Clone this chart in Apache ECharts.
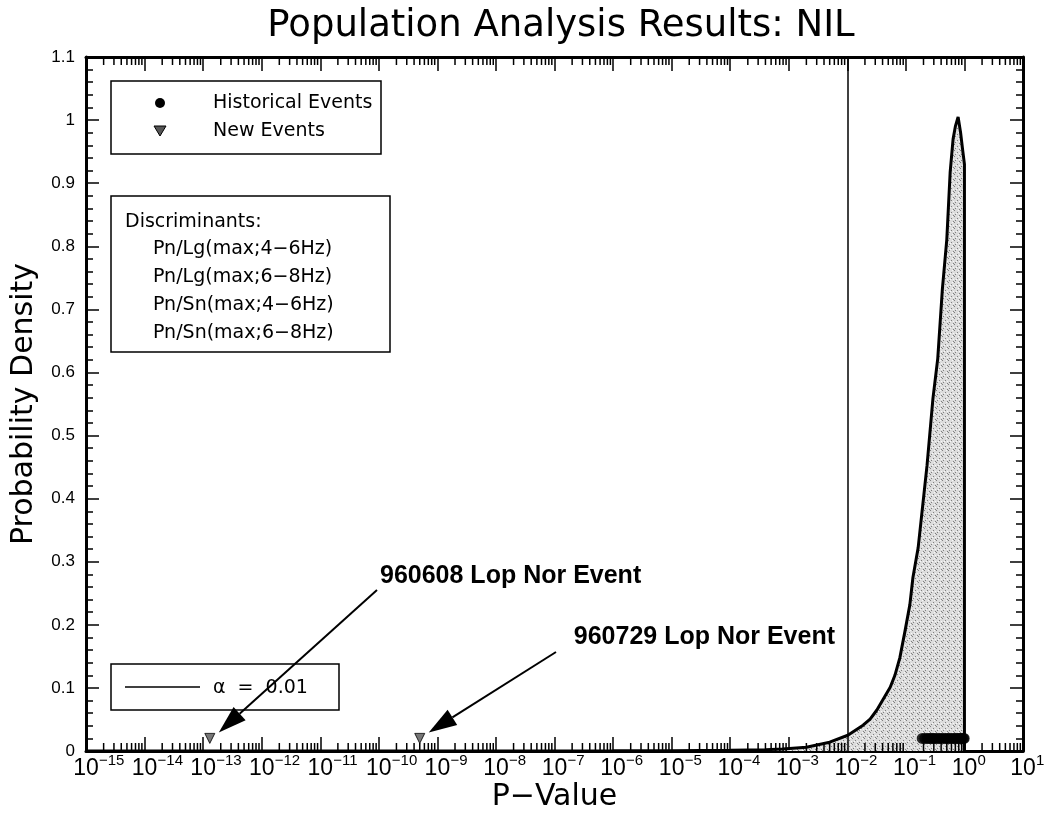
<!DOCTYPE html>
<html>
<head>
<meta charset="utf-8">
<script src="https://cdn.jsdelivr.net/npm/echarts@6/dist/echarts.min.js"></script>
<style>
html, body { margin: 0; padding: 0; background: #fff; }
#main { width: 1047px; height: 817px; }
</style>
</head>
<body>
<div id="main"></div>
<script>
// density of the population p-values
var curveP = [1e-15, 1e-12, 1e-9, 1e-6, 1e-5, 1e-4, 4e-4, 7.9e-4, 2.0e-3, 5.0e-3, 0.0102, 0.0186, 0.0245, 0.032, 0.054, 0.065, 0.079, 0.0966, 0.117, 0.132, 0.162, 0.23, 0.29, 0.35, 0.42, 0.50, 0.57, 0.64, 0.70, 0.78, 0.86, 0.94, 1.0, 1.0];
var curveD = [0, 0, 0, 0.0002, 0.0005, 0.001, 0.002, 0.003, 0.006, 0.014, 0.025, 0.041, 0.0505, 0.065, 0.101, 0.12, 0.148, 0.19, 0.232, 0.275, 0.322, 0.453, 0.559, 0.622, 0.732, 0.811, 0.917, 0.97, 0.99, 1.005, 0.98, 0.95, 0.93, 0];

// historical events (dots along the bottom)
var histP = [0.19, 0.21, 0.23, 0.25, 0.27, 0.29, 0.31, 0.34, 0.37, 0.40, 0.44, 0.48, 0.52, 0.56, 0.61, 0.66, 0.71, 0.76, 0.81, 0.86, 0.91, 0.96, 0.99];
var histD = [0.02, 0.02, 0.02, 0.02, 0.02, 0.02, 0.02, 0.02, 0.02, 0.02, 0.02, 0.02, 0.02, 0.02, 0.02, 0.02, 0.02, 0.02, 0.02, 0.02, 0.02, 0.02, 0.02];

// new events
var newP = [1.3e-13, 5e-10];
var newD = [0.02, 0.02];
var newNames = ['960608 Lop Nor Event', '960729 Lop Nor Event'];

var alpha = 0.01;
var discriminants = ['Pn/Lg(max;4\u22126Hz)', 'Pn/Lg(max;6\u22128Hz)', 'Pn/Sn(max;4\u22126Hz)', 'Pn/Sn(max;6\u22128Hz)'];

// axes: x is log10(P-Value)
var xMin = -15, xMax = 1;
var yMin = 0, yMax = 1.1;
var minorK = [2, 3, 4, 5, 6, 7, 8, 9];
var xDecades = [-15, -14, -13, -12, -11, -10, -9, -8, -7, -6, -5, -4, -3, -2, -1, 0, 1];

var xMinorTicks = [];
for (var e = xMin; e < xMax; e++) {
  minorK.forEach(function (k) { xMinorTicks.push([e + Math.log10(k), 0]); });
}

function lg(p) { return Math.log10(p); }

// stipple texture for the shaded area
function stipple() {
  var c = document.createElement('canvas');
  c.width = 6; c.height = 6;
  var ctx = c.getContext('2d');
  ctx.fillStyle = '#dcdcdc';
  ctx.fillRect(0, 0, 6, 6);
  ctx.fillStyle = '#808080';
  ctx.fillRect(0, 0, 1, 1);
  ctx.fillRect(3, 2, 1, 1);
  ctx.fillRect(1, 4, 1, 1);
  ctx.fillRect(5, 5, 1, 1);
  ctx.fillStyle = '#f8f8f8';
  ctx.fillRect(4, 0, 1, 1);
  ctx.fillRect(2, 3, 1, 1);
  ctx.fillRect(5, 3, 1, 1);
  return c;
}

var axisLineStyle = { color: '#000', width: 3 };
var tickStyle = { color: '#000', width: 1.5 };

var chart = echarts.init(document.getElementById('main'));

var option = {
  backgroundColor: '#fff',
  animation: false,
  title: {
    text: 'Population Analysis Results: NIL',
    left: 556, top: 3, textAlign: 'center',
    textStyle: { fontFamily: 'DejaVu Sans', fontSize: 37, fontWeight: 'normal', color: '#000' }
  },
  grid: { left: 86, right: 24, top: 57, bottom: 63 },
  xAxis: [{
    type: 'value', min: xMin, max: xMax, interval: 1, position: 'bottom',
    name: 'P\u2212Value', nameLocation: 'middle', nameGap: 31,
    nameTextStyle: { fontFamily: 'DejaVu Sans', fontSize: 30, color: '#000' },
    axisLine: { onZero: false, lineStyle: axisLineStyle },
    axisTick: { inside: true, length: 14, lineStyle: tickStyle },
    axisLabel: { show: false },
    splitLine: { show: false }
  }, {
    type: 'value', min: xMin, max: xMax, interval: 1, position: 'top',
    axisLine: { onZero: false, lineStyle: axisLineStyle },
    axisTick: { inside: true, length: 14, lineStyle: tickStyle },
    axisLabel: { show: false },
    splitLine: { show: false }
  }],
  yAxis: [{
    type: 'value', min: yMin, max: yMax, interval: 0.1, position: 'left',
    name: 'Probability Density', nameLocation: 'middle', nameGap: 47,
    nameTextStyle: { fontFamily: 'DejaVu Sans', fontSize: 30, color: '#000' },
    axisLine: { show: true, onZero: false, lineStyle: axisLineStyle },
    axisTick: { show: true, inside: true, length: 13, lineStyle: tickStyle },
    minorTick: { show: true, splitNumber: 5, length: 7, lineStyle: tickStyle },
    axisLabel: {
      margin: 11, color: '#000', fontSize: 17, fontFamily: 'Liberation Sans',
      formatter: function (v) { return String(Math.round(v * 10) / 10); }
    },
    splitLine: { show: false }
  }, {
    type: 'value', min: yMin, max: yMax, interval: 0.1, position: 'right',
    axisLine: { show: true, onZero: false, lineStyle: axisLineStyle },
    axisTick: { show: true, inside: true, length: 13, lineStyle: tickStyle },
    minorTick: { show: true, splitNumber: 5, length: 7, lineStyle: tickStyle },
    axisLabel: { show: false },
    splitLine: { show: false }
  }],
  graphic: [],
  series: [{
    name: 'density',
    type: 'line',
    data: curveP.map(function (p, i) { return [lg(p), curveD[i]]; }),
    showSymbol: false,
    lineStyle: { color: '#000', width: 3 },
    areaStyle: { color: { image: stipple(), repeat: 'repeat' }, opacity: 1 },
    markLine: {
      silent: true, symbol: 'none', label: { show: false },
      lineStyle: { color: '#000', width: 1.5, type: 'solid' },
      data: [{ xAxis: lg(alpha) }]
    },
    z: 2
  }, {
    name: 'Historical Events',
    type: 'scatter',
    data: histP.map(function (p, i) { return [lg(p), histD[i]]; }),
    symbol: 'circle', symbolSize: 11,
    itemStyle: { color: '#000' },
    z: 4
  }, {
    name: 'New Events',
    type: 'scatter',
    data: newP.map(function (p, i) { return [lg(p), newD[i]]; }),
    symbol: 'triangle', symbolRotate: 180, symbolSize: 10,
    itemStyle: { color: '#555', borderColor: '#000', borderWidth: 1 },
    z: 4
  }, {
    // log minor ticks on bottom and top edges
    name: 'minor ticks',
    type: 'custom',
    data: xMinorTicks,
    silent: true,
    renderItem: function (params, api) {
      var b = api.coord([api.value(0), yMin]);
      var t = api.coord([api.value(0), yMax]);
      var st = { stroke: '#000', lineWidth: 1.5 };
      return {
        type: 'group',
        children: [
          { type: 'line', shape: { x1: b[0], y1: b[1], x2: b[0], y2: b[1] - 8 }, style: st },
          { type: 'line', shape: { x1: t[0], y1: t[1], x2: t[0], y2: t[1] + 8 }, style: st }
        ]
      };
    },
    z: 5
  }, {
    // decade labels 10^n with the "10" centred on the tick
    name: 'x labels',
    type: 'custom',
    data: xDecades.map(function (d) { return [d, 0]; }),
    silent: true,
    clip: false,
    renderItem: function (params, api) {
      var v = api.value(0);
      var b = api.coord([v, yMin]);
      var ex = String(v).replace('-', '\u2212');
      return {
        type: 'group',
        children: [
          { type: 'text', x: b[0], y: b[1] + 6, style: { text: '10', fontFamily: 'Liberation Sans', fontSize: 23, fill: '#000', align: 'center', verticalAlign: 'top' } },
          { type: 'text', x: b[0] + 13, y: b[1] + 2, style: { text: ex, fontFamily: 'Liberation Sans', fontSize: 15, fill: '#000', align: 'left', verticalAlign: 'top' } }
        ]
      };
    },
    z: 5
  }]
};

chart.setOption(option);

// legend boxes and notes
var txt = { fontFamily: 'DejaVu Sans', fontSize: 19, fill: '#000' };
var g = [];
g.push({ type: 'rect', shape: { x: 111, y: 81, width: 270, height: 73 }, style: { fill: '#fff', stroke: '#000', lineWidth: 1.5 }, z: 10 });
g.push({ type: 'circle', shape: { cx: 160, cy: 103, r: 5 }, style: { fill: '#000' }, z: 11 });
g.push({ type: 'polygon', shape: { points: [[154, 126], [166, 126], [160, 136]] }, style: { fill: '#555', stroke: '#000', lineWidth: 1 }, z: 11 });
g.push({ type: 'text', x: 213, y: 103, style: Object.assign({ text: 'Historical Events', verticalAlign: 'middle' }, txt), z: 11 });
g.push({ type: 'text', x: 213, y: 131, style: Object.assign({ text: 'New Events', verticalAlign: 'middle' }, txt), z: 11 });

g.push({ type: 'rect', shape: { x: 111, y: 196, width: 279, height: 156 }, style: { fill: '#fff', stroke: '#000', lineWidth: 1.5 }, z: 10 });
g.push({ type: 'text', x: 125, y: 222, style: Object.assign({ text: 'Discriminants:', verticalAlign: 'middle' }, txt), z: 11 });
discriminants.forEach(function (d, i) {
  g.push({ type: 'text', x: 153, y: 249 + i * 28, style: Object.assign({ text: d, verticalAlign: 'middle' }, txt), z: 11 });
});

g.push({ type: 'rect', shape: { x: 111, y: 664, width: 228, height: 46 }, style: { fill: '#fff', stroke: '#000', lineWidth: 1.5 }, z: 10 });
g.push({ type: 'line', shape: { x1: 125, y1: 687, x2: 200, y2: 687 }, style: { stroke: '#000', lineWidth: 1.5 }, z: 11 });
g.push({ type: 'text', x: 213, y: 688, style: Object.assign({ text: '\u03b1  =  ' + alpha, verticalAlign: 'middle' }, txt), z: 11 });

// arrows from the notes to the new events
var noteStyle = { fontFamily: 'Liberation Sans', fontSize: 25, fontWeight: 'bold', fill: '#000', verticalAlign: 'middle' };
var noteAt = [[380, 576, 'left'], [835, 637, 'right']];
var tails = [[377, 590], [556, 652]];
newP.forEach(function (p, i) {
  g.push({ type: 'text', x: noteAt[i][0], y: noteAt[i][1], style: Object.assign({ text: newNames[i], align: noteAt[i][2] }, noteStyle), z: 12 });
  var pt = chart.convertToPixel({ gridIndex: 0 }, [lg(p), newD[i]]);
  var tip = [pt[0] + 9, pt[1] - 6];
  var tail = tails[i];
  var dx = tip[0] - tail[0], dy = tip[1] - tail[1];
  var len = Math.sqrt(dx * dx + dy * dy);
  var ux = dx / len, uy = dy / len;
  var bx = tip[0] - ux * 28, by = tip[1] - uy * 28;
  g.push({ type: 'line', shape: { x1: tail[0], y1: tail[1], x2: bx, y2: by }, style: { stroke: '#000', lineWidth: 2 }, z: 12 });
  g.push({ type: 'polygon', shape: { points: [tip, [bx - uy * 9, by + ux * 9], [bx + uy * 9, by - ux * 9]] }, style: { fill: '#000' }, z: 12 });
});

chart.setOption({ graphic: g });
</script>
</body>
</html>
